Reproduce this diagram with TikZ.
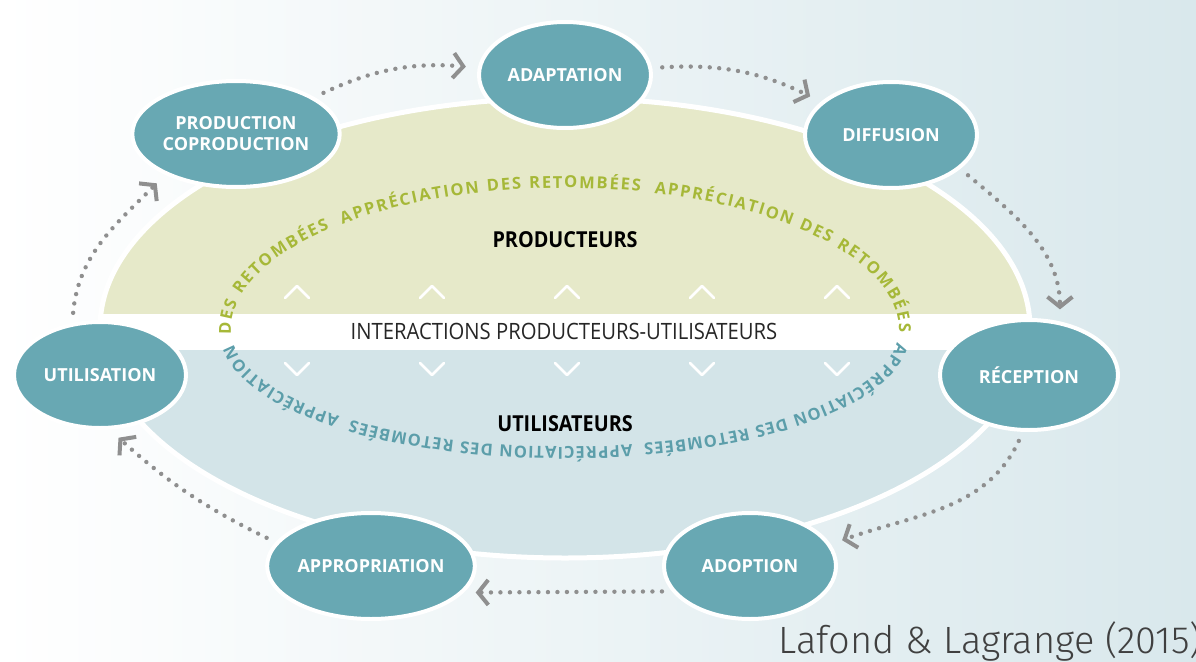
\documentclass[tikz,border=0pt]{standalone}
\usepackage{fontspec}
\setmainfont{Open Sans}
\newfontfamily\bandfont[FakeStretch=0.9]{Open Sans}
\newfontfamily\creditfont{Fira Sans Light}
\usetikzlibrary{shapes.geometric,arrows.meta,decorations.text}

\definecolor{stagefill}{HTML}{68A8B3}
\definecolor{prodfill}{HTML}{E6E9C9}
\definecolor{userfill}{HTML}{D3E4E8}
\definecolor{prodtext}{HTML}{A6B838}
\definecolor{usertext}{HTML}{5C9EAA}
\definecolor{flowgray}{HTML}{8F8F8F}
\definecolor{bgblue}{HTML}{D9E8EC}

\newcommand{\arcfont}{\fontsize{16.5}{16.5}\selectfont\bfseries}

\begin{document}
\begin{tikzpicture}
  [x=1pt, y=1pt,
   stage/.style={ellipse, draw=white, line width=4pt, fill=stagefill,
                 text=white, minimum width=172pt, minimum height=106pt,
                 inner sep=0pt, align=center,
                 font=\fontsize{18}{21}\selectfont\bfseries},
   flow/.style={draw=flowgray, line width=4.4pt, line cap=round,
                dash pattern=on 0pt off 9.5pt,
                -{Straight Barb[length=10pt, width=25pt, line width=4pt]},
                shorten <=10pt, shorten >=12pt},
   every edge/.style={flow},
   chevron/.style={draw=white, line width=2.5pt, line cap=round, line join=round}
  ]
  \useasboundingbox (0,0) rectangle (1196,-661);
  \shade[left color=white, right color=bgblue] (0,0) rectangle (1196,-661);

  % big ellipse: producers on top, users below
  \fill[white] (565,-328) ellipse [x radius=465, y radius=230];
  \begin{scope}
    \clip (0,0) rectangle (1196,-313);
    \fill[prodfill] (565,-328) ellipse [x radius=465, y radius=230];
  \end{scope}
  \begin{scope}
    \clip (0,-350) rectangle (1196,-661);
    \fill[userfill] (565,-328) ellipse [x radius=465, y radius=230];
  \end{scope}
  \draw[white, line width=5pt] (565,-328) ellipse [x radius=465, y radius=230];

  \path[decorate, decoration={text along path, text align=fit to path, text color=prodtext,
        text={|\arcfont|DES RETOMBÉES {\ }APPRÉCIATION DES RETOMBÉES {\ }APPRÉCIATION DES RETOMBÉES}}]
    (565,-330) ++(182:334 and 142) arc [start angle=182, end angle=-1, x radius=334, y radius=142];
  \path[decorate, decoration={text along path, text align=fit to path, text color=usertext,
        text={|\arcfont|APPRÉCIATION DES RETOMBÉES {\ }APPRÉCIATION DES RETOMBÉES {\ }APPRÉCIATION}}]
    (565,-332) ++(-5:333 and 115) arc [start angle=-5, end angle=-174, x radius=333, y radius=115];

  \draw[chevron] (285,-298) -- (297,-286) -- (309,-298)
                 (420,-298) -- (432,-286) -- (444,-298)
                 (555,-298) -- (567,-286) -- (579,-298)
                 (690,-298) -- (702,-286) -- (714,-298)
                 (825,-298) -- (837,-286) -- (849,-298);
  \draw[chevron] (285,-363) -- (297,-375) -- (309,-363)
                 (420,-363) -- (432,-375) -- (444,-363)
                 (555,-363) -- (567,-375) -- (579,-363)
                 (690,-363) -- (702,-375) -- (714,-363)
                 (825,-363) -- (837,-375) -- (849,-363);

  \node[font=\bandfont\fontsize{22}{22}\selectfont\bfseries] (PR) at (565,-240) {PRODUCTEURS};
  \node[font=\bandfont\fontsize{22}{22}\selectfont\bfseries] (UT) at (565,-424) {UTILISATEURS};
  \node[font=\bandfont\fontsize{22.5}{22.5}\selectfont, text=black!85] (IN) at (564,-331)
    {INTERACTIONS PRODUCTEURS-UTILISATEURS};

  \node[stage] (P)  at (236,-134)  {PRODUCTION\\COPRODUCTION};
  \node[stage] (A)  at (565,-75)   {ADAPTATION};
  \node[stage] (D)  at (891,-135)  {DIFFUSION};
  \node[stage, minimum width=178pt, minimum height=110pt] (R) at (1029,-375) {RÉCEPTION};
  \node[stage] (Ad) at (750,-566)  {ADOPTION};
  \node[stage] (Ap) at (371,-566)  {APPROPRIATION};
  \node[stage] (U)  at (100,-375)  {UTILISATION};

  \path (P)       edge [bend left=15]          (A)
        (A)       edge [bend left=15]          (D)
        (D.-26)   edge [out=-40, in=90]        (R.60)
        (R.-96)   edge [out=-115, in=20]       (Ad.15)
        (Ad.-162) edge                         (Ap.-16)
        (Ap.166)  edge [bend left=8]           (U.-80)
        (U.118)   edge [out=85, in=-135]       (P.-150);

  \node[font=\creditfont\fontsize{38}{38}\selectfont, text=black!75, anchor=base west]
    (L) at (775,-653) {Lafond \& Lagrange (2015)};
\end{tikzpicture}
\end{document}
